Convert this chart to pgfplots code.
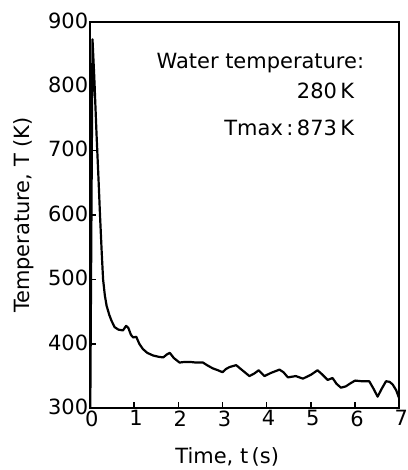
\documentclass[border=0pt]{standalone}
\usepackage{fontspec}
\setmainfont{DejaVu Sans}
\usepackage{pgfplots}
\pgfplotsset{compat=1.18}

\begin{document}
\begin{tikzpicture}[font=\fontsize{21}{25}\selectfont]
\begin{axis}[
  name=ax,
  scale only axis,
  width=310pt, height=387pt,
  xmin=0, xmax=7, ymin=300, ymax=900,
  xtick={0,1,...,7}, ytick={300,400,...,900},
  tick align=inside,
  xtick pos=bottom, ytick pos=left,
  major tick length=6pt,
  axis line style={line width=1.8pt},
  every tick/.style={line width=1.3pt, black},
  /pgf/number format/assume math mode=true,
  yticklabel style={inner sep=1.5pt, yshift=1.5pt},
  xticklabel style={inner sep=0pt, yshift=-2pt, xshift=2pt},
  xlabel={Time, t\,(s)},
  ylabel={Temperature, T (K)},
  xlabel style={at={(axis description cs:0.444,-0.127)}, anchor=center},
  ylabel style={at={(axis description cs:-0.215,0.5)}, anchor=center},
]
% cooling curve after quenching into water
\addplot[black, line width=2.2pt, line join=round] coordinates {
  (0.01,300) (0.06,873) (0.10,815) (0.15,728) (0.20,650) (0.23,600)
  (0.27,540) (0.30,500) (0.34,475) (0.38,459) (0.44,445) (0.49,436)
  (0.56,426) (0.65,422) (0.75,421) (0.82,428) (0.87,425) (0.93,414)
  (0.98,410) (1.05,411) (1.12,400) (1.20,392) (1.30,386) (1.43,382)
  (1.55,380) (1.66,379) (1.75,384) (1.81,386) (1.90,378) (2.03,371)
  (2.15,372) (2.26,372) (2.40,371) (2.48,371) (2.56,371) (2.65,367)
  (2.78,362) (2.90,359) (3.00,356) (3.08,361) (3.16,364) (3.31,367)
  (3.45,359) (3.61,350) (3.72,354) (3.82,359) (3.95,350) (4.10,355)
  (4.29,360) (4.38,356) (4.48,348) (4.66,350) (4.82,346) (5.00,352)
  (5.15,359) (5.25,353) (5.38,344) (5.49,347) (5.58,338) (5.68,332)
  (5.79,334) (5.90,339) (6.00,343) (6.15,342) (6.32,342) (6.42,330)
  (6.51,318) (6.60,330) (6.70,342) (6.78,341) (6.85,337) (6.93,328)
  (7.00,315)
};
\node[anchor=north east, inner sep=0pt] at (axis description cs:0.887,0.92) {Water temperature:};
\node[anchor=north east, inner sep=0pt] at (axis description cs:0.855,0.842) {280\,K};
\node[anchor=north east, inner sep=0pt] at (axis description cs:0.855,0.747) {Tmax\,:\,873\,K};
\end{axis}
\path[use as bounding box] ([shift={(-90pt,-61pt)}]ax.south west) rectangle ([shift={(2pt,22pt)}]ax.north east);
\end{tikzpicture}
\end{document}
